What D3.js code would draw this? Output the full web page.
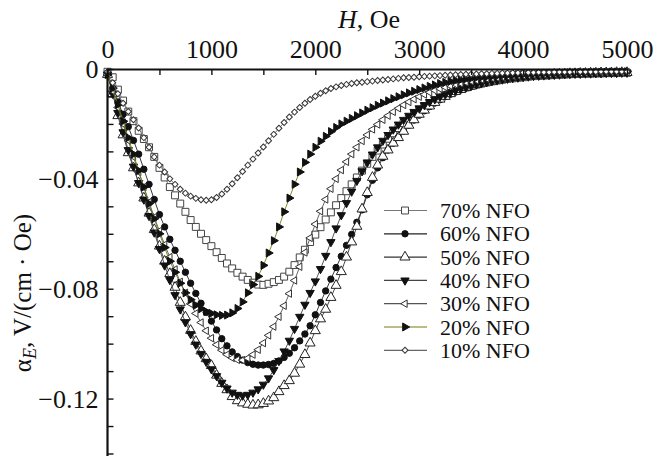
<!DOCTYPE html>
<html>
<head>
<meta charset="utf-8">
<script src="https://cdn.jsdelivr.net/npm/d3@7"></script>
<style>
  body { margin: 0; background: #fff; }
  svg text { font-family: "Liberation Serif", "DejaVu Serif", serif; fill: #111; }
</style>
</head>
<body>
<div id="chart"></div>
<script>
// field, Oe
var fieldOe = [0,50,100,150,200,250,300,350,400,450,500,550,600,650,700,750,800,850,900,950,
  1000,1050,1100,1150,1200,1250,1300,1350,1400,1450,1500,1550,1600,1650,1700,1750,1800,1850,1900,1950,
  2000,2050,2100,2150,2200,2250,2300,2350,2400,2450,2500,2550,2600,2650,2700,2750,2800,2850,2900,2950,
  3000,3050,3100,3150,3200,3250,3300,3350,3400,3450,3500,3550,3600,3650,3700,3750,3800,3850,3900,3950,
  4000,4050,4100,4150,4200,4250,4300,4350,4400,4450,4500,4550,4600,4650,4700,4750,4800,4850,4900,4950,5000];

// alpha_E, in 1e-3 V/(cm*Oe)
var nfo70 = [-1,-3,-7.5,-11.5,-15.5,-19,-22.5,-25.5,-28.5,-32,
  -36,-39.5,-43,-46,-49,-52,-55,-57.5,-60,-62.3,
  -64.5,-66.7,-68.8,-70.8,-72.6,-74.2,-75.6,-76.8,-77.8,-78.5,
  -78.6,-78.2,-77.6,-76.8,-75.6,-73.8,-71.4,-68.6,-65.8,-63,
  -60.3,-57.6,-54.8,-52.2,-49.6,-47,-44.5,-42,-39.5,-37,
  -34.5,-32,-29.7,-27.5,-25.4,-23.4,-21.5,-19.7,-18,-16.4,
  -15,-13.7,-12.5,-11.4,-10.4,-9.5,-8.7,-8,-7.3,-6.7,
  -6.2,-5.7,-5.3,-4.9,-4.5,-4.2,-3.9,-3.6,-3.4,-3.2,
  -3,-2.8,-2.6,-2.5,-2.4,-2.3,-2.2,-2.1,-2,-1.9,
  -1.8,-1.8,-1.7,-1.7,-1.6,-1.6,-1.5,-1.5,-1.5,-1.4,-1.4];
var nfo60 = [-2,-7,-12,-16.5,-21,-26,-31,-36.5,-42,-47.5,
  -53,-57.5,-62,-66,-70,-74,-78,-81.7,-85.3,-88.6,
  -91.8,-95,-98.2,-100.8,-103,-104.7,-106,-106.9,-107.5,-107.8,
  -107.8,-107.6,-107.2,-106.3,-105,-103.5,-101.5,-99,-96.5,-93.5,
  -89.5,-85,-80.8,-76.5,-72.3,-68.2,-64.2,-60.2,-55.8,-51.3,
  -45.8,-40.5,-36,-32.3,-29.5,-27,-24.8,-22.6,-20.5,-18.6,
  -16.8,-15.2,-13.7,-12.4,-11.2,-10.1,-9.2,-8.4,-7.6,-6.9,
  -6.3,-5.8,-5.3,-4.9,-4.5,-4.1,-3.8,-3.5,-3.2,-3,
  -2.8,-2.6,-2.5,-2.4,-2.3,-2.2,-2.1,-2,-1.9,-1.8,
  -1.8,-1.7,-1.7,-1.6,-1.6,-1.5,-1.5,-1.4,-1.4,-1.4,-1.3];
var nfo50 = [-2,-9,-17,-24,-30.5,-36,-41.5,-47,-52.5,-58.5,
  -64.5,-70,-74.5,-79.5,-85,-90.3,-95.2,-99.2,-102.7,-105.5,
  -108,-111.5,-114.5,-116.8,-119.3,-120.8,-121.6,-122.1,-122.4,-122.3,
  -121.8,-120.9,-119.7,-117.5,-115.3,-113.5,-110.8,-107.5,-104,-99.8,
  -95.3,-91,-87.5,-83.2,-78.8,-73.8,-68.5,-63,-57.3,-51,
  -45,-39.5,-35,-31.8,-29.5,-27,-25,-22.7,-20.5,-18.5,
  -16.5,-15,-13.5,-12.2,-11,-10,-9,-8.2,-7.5,-6.8,
  -6.2,-5.7,-5.2,-4.8,-4.4,-4,-3.7,-3.4,-3.1,-2.9,
  -2.7,-2.5,-2.4,-2.3,-2.2,-2.1,-2,-1.9,-1.8,-1.7,
  -1.7,-1.6,-1.6,-1.5,-1.5,-1.4,-1.4,-1.4,-1.3,-1.3,-1.3];
var nfo40 = [-2,-9,-16,-23,-29.5,-35.5,-41.5,-47.5,-53.5,-59.5,
  -65.5,-71.5,-76.8,-82.3,-87.5,-92.2,-96.5,-100.3,-103.7,-106.6,
  -109.3,-111.8,-114.2,-116.3,-117.8,-118.6,-118.9,-118.6,-117.8,-116.6,
  -114.9,-112.6,-109.6,-106.3,-102.8,-98.9,-94.6,-90.2,-85.8,-81.5,
  -77.3,-72.8,-68,-63,-58,-53.2,-48.8,-44.6,-40.7,-37.2,
  -34,-31.1,-28.5,-26.1,-24,-22,-20.2,-18.5,-17,-15.6,
  -14.3,-13.1,-12,-11,-10.1,-9.3,-8.5,-7.8,-7.2,-6.6,
  -6.1,-5.6,-5.2,-4.8,-4.4,-4.1,-3.8,-3.5,-3.3,-3.1,
  -2.9,-2.7,-2.5,-2.4,-2.3,-2.2,-2.1,-2,-1.9,-1.8,
  -1.7,-1.7,-1.6,-1.6,-1.5,-1.5,-1.4,-1.4,-1.4,-1.3,-1.3];
var nfo30 = [-2,-8,-14,-20,-26,-32,-37.5,-43,-48.5,-54,
  -59,-64,-68.5,-73,-77.5,-81.5,-85.5,-89,-92.3,-95.3,
  -98,-100.4,-102.4,-104,-105.2,-105.9,-106,-105.3,-104,-102.2,
  -99.8,-97,-93.8,-90.2,-86.2,-81.8,-77,-72,-66.8,-61.5,
  -56.5,-51.8,-47.5,-43.6,-40,-36.8,-33.8,-31,-28.5,-26.2,
  -24,-22,-20.2,-18.5,-17,-15.6,-14.3,-13.1,-12,-11,
  -10.1,-9.3,-8.5,-7.8,-7.2,-6.6,-6.1,-5.6,-5.2,-4.8,
  -4.4,-4.1,-3.8,-3.5,-3.3,-3.1,-2.9,-2.7,-2.5,-2.4,
  -2.3,-2.2,-2.1,-2,-1.9,-1.8,-1.7,-1.7,-1.6,-1.6,
  -1.5,-1.5,-1.4,-1.4,-1.3,-1.3,-1.3,-1.2,-1.2,-1.2,-1.1];
var nfo20 = [-2,-7,-13,-19,-25,-31,-37,-43,-49,-54.5,
  -60,-65,-70,-74,-78,-81.5,-84,-86,-87.3,-88.3,
  -89,-89.5,-89.7,-89.6,-88.8,-87.2,-84.8,-81.5,-78.5,-75.5,
  -71.5,-67,-62.5,-57.5,-52,-47,-42,-37.5,-34,-31,
  -28.5,-26.3,-24.5,-22.8,-21.3,-20,-19,-18,-17,-16,
  -15,-14.1,-13.2,-12.4,-11.6,-10.8,-10.1,-9.4,-8.7,-8.1,
  -7.5,-6.9,-6.3,-5.8,-5.3,-4.9,-4.5,-4.2,-3.9,-3.6,
  -3.4,-3.2,-3,-2.8,-2.7,-2.5,-2.4,-2.3,-2.2,-2.1,
  -2,-1.9,-1.8,-1.8,-1.7,-1.6,-1.6,-1.5,-1.5,-1.4,
  -1.4,-1.3,-1.3,-1.3,-1.2,-1.2,-1.2,-1.1,-1.1,-1.1,-1];
var nfo10 = [-1,-5,-9,-12.5,-15.5,-18.5,-21.5,-25,-28.5,-32,
  -35,-37.5,-40,-42,-43.8,-45.2,-46.3,-47.1,-47.6,-47.8,
  -47.6,-46.8,-45.5,-43.8,-41.8,-39.6,-37.3,-35,-32.8,-30.6,
  -28.4,-26.1,-23.8,-21.6,-19.5,-17.5,-15.7,-14,-12.5,-11.1,
  -9.9,-8.8,-7.9,-7.1,-6.5,-6,-5.6,-5.3,-5,-4.8,
  -4.6,-4.4,-4.2,-4,-3.8,-3.6,-3.4,-3.2,-3.1,-3,
  -2.8,-2.7,-2.6,-2.5,-2.4,-2.3,-2.2,-2.1,-2,-1.9,
  -1.9,-1.8,-1.7,-1.7,-1.6,-1.6,-1.5,-1.5,-1.4,-1.4,
  -1.3,-1.3,-1.3,-1.2,-1.2,-1.2,-1.1,-1.1,-1.1,-1.1,
  -1,-1,-1,-1,-1,-0.9,-0.9,-0.9,-0.9,-0.9,-0.9];

var seriesNames = ["70% NFO", "60% NFO", "50% NFO", "40% NFO", "30% NFO", "20% NFO", "10% NFO"];
var seriesValues = [nfo70, nfo60, nfo50, nfo40, nfo30, nfo20, nfo10];
var xTickLabels = [0, 1000, 2000, 3000, 4000, 5000];
var yTickLabels = [0, -0.04, -0.08, -0.12];

var width = 655, height = 456;
var serif = "'Liberation Serif', 'DejaVu Serif', serif";

// marker style per series: symbol, size, rotation, fill, line colour
var styles = [
  {sym: d3.symbolSquare,   size: 48, rot: 0,   fill: "#fff", stroke: "#444", line: "#777"},
  {sym: d3.symbolCircle,   size: 32, rot: 0,   fill: "#111", stroke: "#111", line: "#222"},
  {sym: d3.symbolTriangle, size: 44, rot: 0,   fill: "#fff", stroke: "#222", line: "#333"},
  {sym: d3.symbolTriangle, size: 30, rot: 180, fill: "#111", stroke: "#111", line: "#444"},
  {sym: d3.symbolTriangle, size: 24, rot: -90, fill: "#fff", stroke: "#333", line: "#555"},
  {sym: d3.symbolTriangle, size: 28, rot: 90,  fill: "#111", stroke: "#111", line: "#7a7a10"},
  {sym: d3.symbolSquare,   size: 18, rot: 45,  fill: "#fff", stroke: "#333", line: "#666"}
];

var x = d3.scaleLinear().domain([0, 5000]).range([107.5, 627]);
var y = d3.scaleLinear().domain([0, -0.14]).range([69, 453.5]);

var svg = d3.select("#chart").append("svg")
    .attr("width", width)
    .attr("height", height);

var line = d3.line()
    .x(function(d) { return x(d[0]); })
    .y(function(d) { return y(d[1]); });

// curves
seriesValues.forEach(function(vals, i) {
  var st = styles[i];
  var pts = fieldOe.map(function(h, j) { return [h, vals[j] / 1000]; });
  var g = svg.append("g").attr("class", "series");
  g.append("path")
      .datum(pts)
      .attr("d", line)
      .attr("fill", "none")
      .attr("stroke", st.line)
      .attr("stroke-width", 0.9);
  g.selectAll("path.mark")
      .data(pts)
    .enter().append("path")
      .attr("class", "mark")
      .attr("d", d3.symbol().type(st.sym).size(st.size))
      .attr("transform", function(d) { return "translate(" + x(d[0]) + "," + y(d[1]) + ") rotate(" + st.rot + ")"; })
      .attr("fill", st.fill)
      .attr("stroke", st.stroke)
      .attr("stroke-width", 1);
});

// top axis, ticks inward
var xAxis = d3.axisTop(x)
    .tickValues(d3.range(0, 5001, 500))
    .tickSizeInner(-6).tickSizeOuter(0).tickPadding(12)
    .tickFormat(function(d) { return xTickLabels.indexOf(d) >= 0 ? d : ""; });
var gx = svg.append("g").attr("transform", "translate(0,69)").call(xAxis);

// left axis
var yAxis = d3.axisLeft(y)
    .tickValues(d3.range(0, 15).map(function(k) { return -k / 100; }))
    .tickSizeInner(-6).tickSizeOuter(0).tickPadding(9)
    .tickFormat(function(d) {
      var hit = yTickLabels.filter(function(v) { return Math.abs(v - d) < 1e-9; });
      return hit.length ? (d === 0 ? "0" : d3.format(".2f")(d)) : "";
    });
var gy = svg.append("g").attr("transform", "translate(107.5,0)").call(yAxis);

[gx, gy].forEach(function(g) {
  g.attr("font-family", serif).attr("font-size", 26);
  g.select(".domain").attr("stroke", "#111").attr("stroke-width", 2.2);
  g.selectAll(".tick line").attr("stroke", "#111").attr("stroke-width", 1.4);
  g.selectAll(".tick text").style("font-family", serif).style("font-size", "26px").attr("fill", "#111");
});
gy.select(".domain").attr("d", "M0,69V456");
gx.selectAll(".tick text").attr("dy", 0).attr("y", -11);
gy.selectAll(".tick text").attr("dy", "0.33em");

// axis titles
var tx = svg.append("text")
    .attr("x", 369).attr("y", 28)
    .attr("text-anchor", "middle")
    .style("font-family", serif)
    .style("font-size", "26px");
tx.append("tspan").attr("font-style", "italic").text("H");
tx.append("tspan").text(", Oe");

var ty = svg.append("text")
    .attr("transform", "translate(31,293) rotate(-90)")
    .attr("text-anchor", "middle")
    .style("font-family", serif)
    .style("font-size", "25px");
ty.append("tspan").text("\u03b1");
ty.append("tspan").style("font-size", "18px").attr("font-style", "italic").attr("dy", 5).text("E");
ty.append("tspan").attr("dy", -5).text(", V/(cm \u00b7 Oe)");

// legend
var legend = svg.append("g");
seriesNames.forEach(function(name, i) {
  var st = styles[i];
  var ly = 210.5 + i * 23.3;
  legend.append("line")
      .attr("x1", 384).attr("x2", 427).attr("y1", ly).attr("y2", ly)
      .attr("stroke", st.line).attr("stroke-width", 1.2);
  legend.append("path")
      .attr("d", d3.symbol().type(st.sym).size(st.size))
      .attr("transform", "translate(405," + ly + ") rotate(" + st.rot + ")")
      .attr("fill", st.fill).attr("stroke", st.stroke).attr("stroke-width", 1);
  legend.append("text")
      .attr("x", 440).attr("y", ly + 7.5)
      .style("font-family", serif)
      .style("font-size", "22px")
      .text(name);
});
</script>
</body>
</html>
